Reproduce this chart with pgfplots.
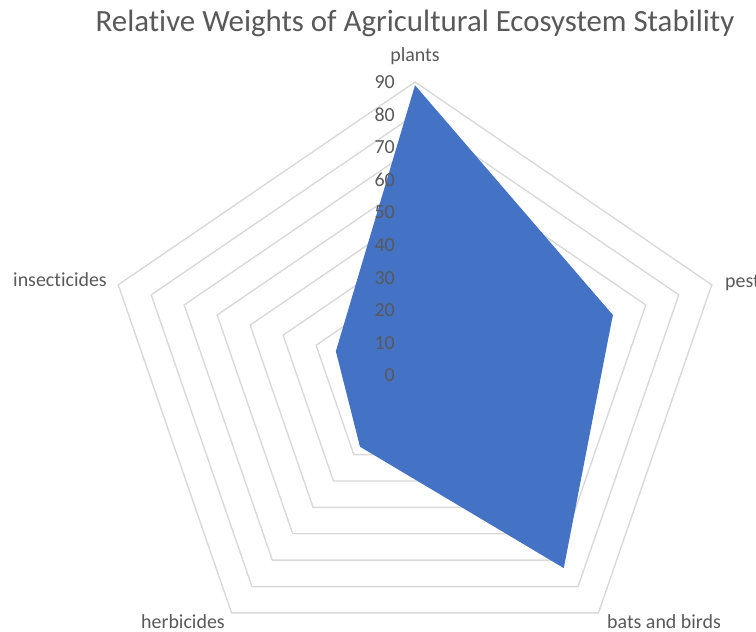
\documentclass[border=0pt]{standalone}
\usepackage{pgfplots}
\usepackage{pgfplotstable}
\usepackage{fontspec}
\setmainfont{Carlito}[Ligatures={NoCommon}]
\pgfplotsset{compat=1.18}
\definecolor{fillblue}{HTML}{4472C4}
\definecolor{gridgray}{HTML}{D9D9D9}
\definecolor{txtgray}{HTML}{595959}
\pgfplotstableread{
angle value
90 89
18 60
-54 73
-126 27
162 24
}\radardata
\begin{document}
\begin{tikzpicture}
\path[use as bounding box] (0,0) rectangle (756bp,632bp);
\clip (0,0) rectangle (756bp,632bp);
\begin{axis}[
  at={(415bp,256.5bp)}, anchor=origin,
  x=3.467bp, y=3.261bp,
  xmin=-100, xmax=100, ymin=-90, ymax=100,
  hide axis, clip=false,
]
\pgfplotsinvokeforeach{10,20,...,90}{
  \addplot[draw=gridgray, line width=1.4bp, mark=none]
    table[x expr={#1*cos(\thisrow{angle})}, y expr={#1*sin(\thisrow{angle})}] {\radardata} -- cycle;
}
\addplot[draw=none, fill=fillblue, mark=none]
  table[x expr={\thisrow{value}*cos(\thisrow{angle})}, y expr={\thisrow{value}*sin(\thisrow{angle})}] {\radardata} -- cycle;
\pgfplotsinvokeforeach{0,10,...,90}{
  \node[anchor=east, text=txtgray, font=\fontsize{20}{23}\selectfont, inner sep=0pt]
    at (axis cs:-5.8,#1) {#1};
}
\end{axis}
\node[anchor=base, text=txtgray, font=\fontsize{31}{36}\selectfont, inner sep=0pt] at (415bp,600bp) {Relative Weights of Agricultural Ecosystem Stability};
\begin{scope}[every node/.style={text=txtgray, font=\fontsize{20}{23}\selectfont, inner sep=0pt}]
\node[anchor=base] at (415bp,570bp) {plants};
\node[anchor=base west] at (13bp,345bp) {insecticides};
\node[anchor=base west] at (725bp,344bp) {pests};
\node[anchor=base west] at (141bp,4bp) {herbicides};
\node[anchor=base west] at (607bp,4bp) {bats and birds};
\end{scope}
\end{tikzpicture}
\end{document}
